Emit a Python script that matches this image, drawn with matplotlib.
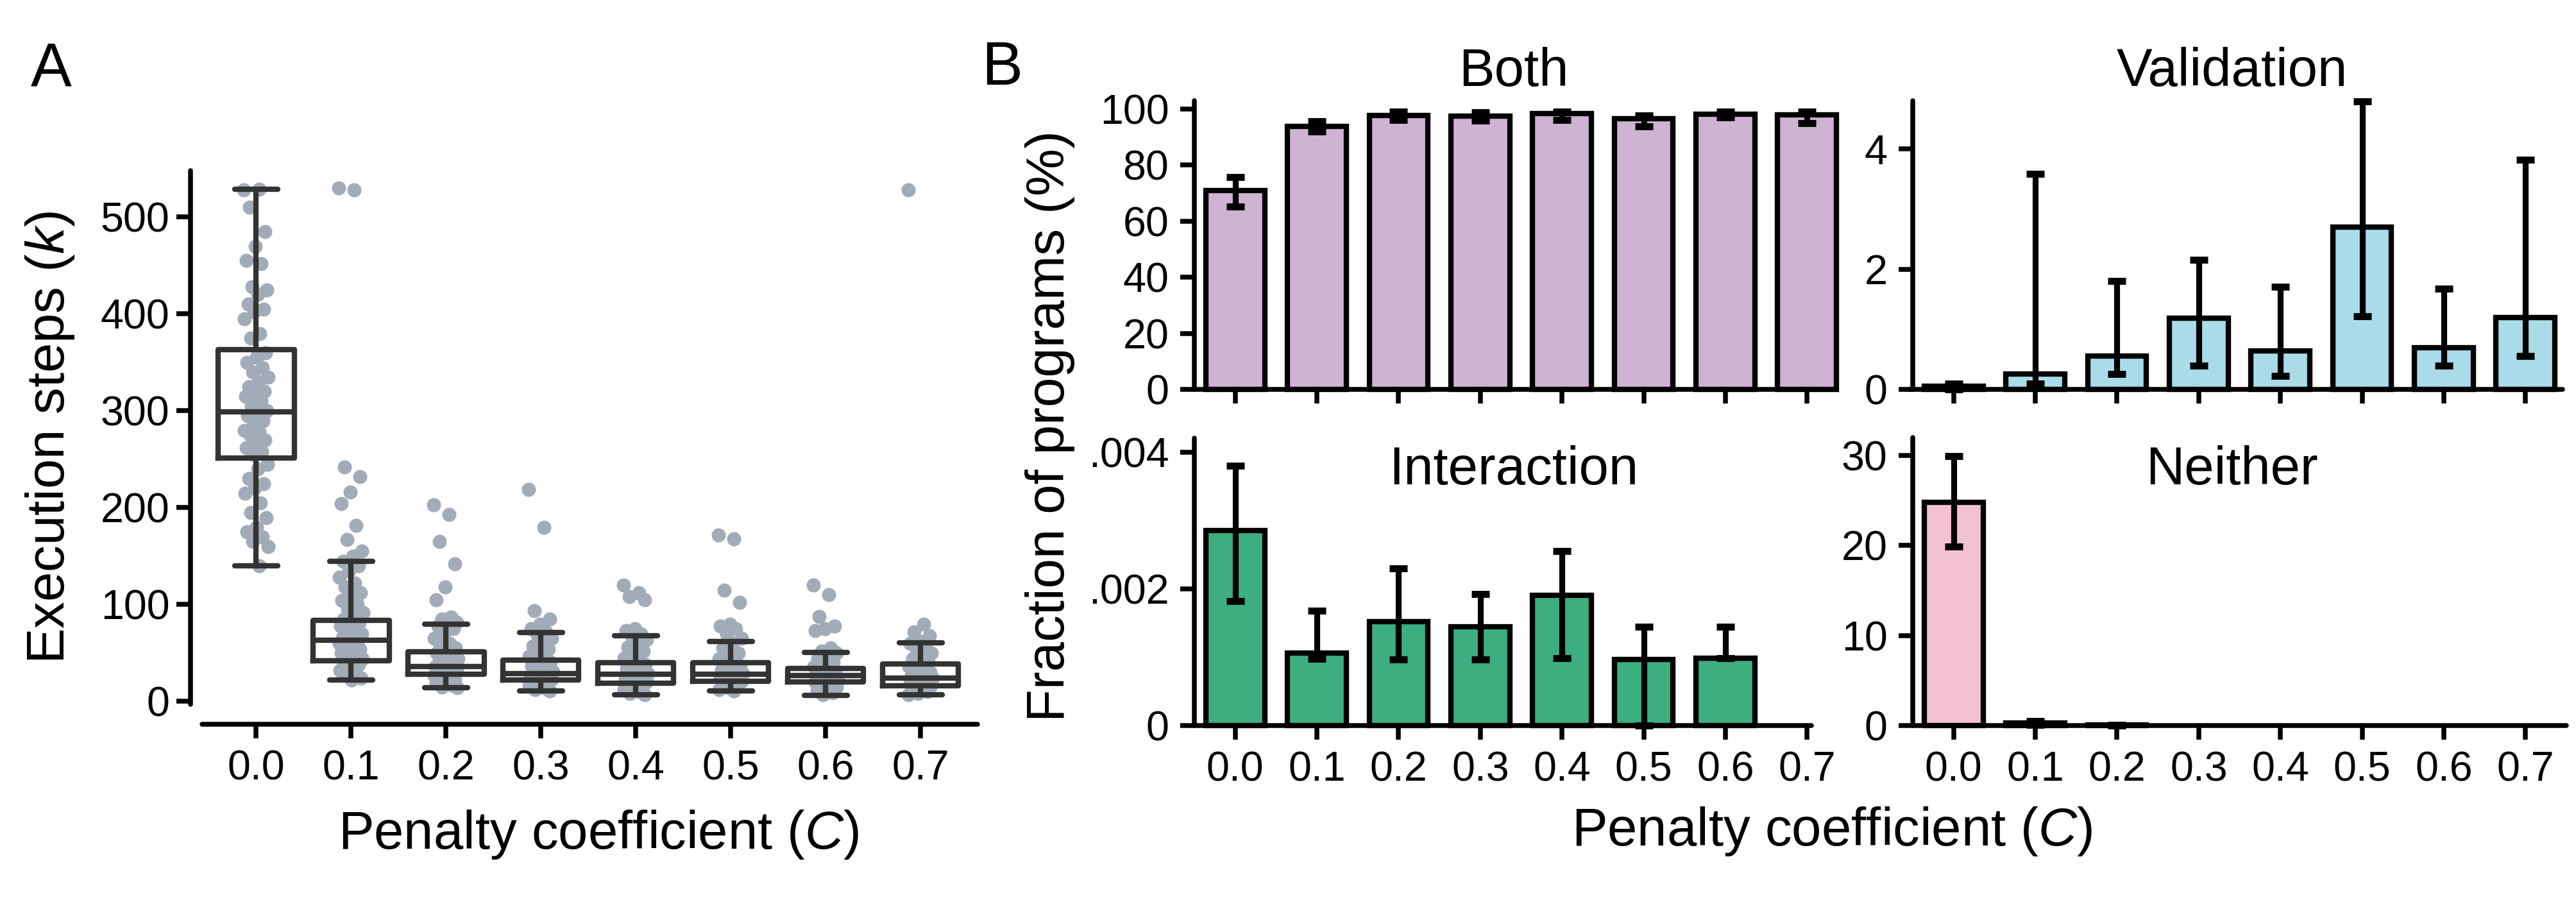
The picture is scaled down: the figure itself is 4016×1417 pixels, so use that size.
import matplotlib

matplotlib.use("Agg")

import numpy as np
import matplotlib.pyplot as plt

plt.rcParams["font.family"] = ["Liberation Sans", "DejaVu Sans"]
plt.rcParams["mathtext.fontset"] = "custom"
plt.rcParams["mathtext.rm"] = "Liberation Sans"
plt.rcParams["mathtext.it"] = "Liberation Sans:italic"
plt.rcParams["font.size"] = 15.5

W, H, DPI = 4016, 1417, 300

categories = ["0.0", "0.1", "0.2", "0.3", "0.4", "0.5", "0.6", "0.7"]

# panel A: box stats (thousands of steps)
steps_lo = [140, 22, 14, 11, 7, 11, 6.6, 7]
steps_q1 = [251, 42, 28, 22, 19, 21, 20, 16.5]
steps_med = [299, 63, 36, 29, 28, 28, 26.5, 24]
steps_q3 = [363, 84, 51, 43, 40, 40, 34, 38.5]
steps_hi = [529, 145, 80, 71, 68, 62, 50.6, 60.6]

# panel A: individual runs
pts_00 = [528, 529, 510, 485, 470, 455, 452, 428, 425, 420, 410, 405, 402, 395, 380,
          375, 360, 355, 350, 345, 340, 335, 330, 325, 320, 318, 315, 310, 305, 300,
          298, 295, 290, 285, 280, 278, 275, 270, 265, 262, 258, 255, 245, 240, 230,
          225, 220, 215, 205, 195, 190, 180, 175, 170, 165, 160, 140]
pts_01 = [530, 528, 242, 232, 216, 204, 182, 167, 155, 150, 145, 140, 135, 128, 122,
          118, 112, 108, 104, 100, 96, 92, 88, 85, 82, 80, 78, 75, 72, 70, 68, 66, 64,
          62, 60, 58, 56, 54, 52, 50, 48, 46, 44, 42, 40, 38, 35, 32, 30, 27, 24, 22]
pts_02 = [203, 193, 165, 142, 118, 105, 87, 85, 82, 80, 78, 75, 70, 65, 60, 58, 55,
          52, 50, 48, 46, 44, 42, 40, 38, 37, 36, 35, 34, 33, 32, 30, 29, 28, 27, 26,
          25, 23, 21, 19, 17, 15, 14]
pts_03 = [219, 180, 94, 85, 80, 75, 72, 70, 65, 60, 57, 54, 50, 47, 45, 43, 41, 39,
          37, 35, 33, 31, 30, 29, 28, 27, 26, 25, 24, 23, 22, 21, 20, 18, 16, 14, 12, 11]
pts_04 = [120, 112, 108, 105, 75, 73, 70, 67, 64, 60, 56, 52, 48, 45, 42, 40, 38, 36,
          34, 32, 30, 29, 28, 27, 26, 25, 24, 22, 21, 20, 19, 18, 16, 14, 12, 10, 8, 7]
pts_05 = [172, 168, 115, 102, 80, 78, 75, 70, 65, 60, 55, 50, 47, 44, 41, 39, 37, 35,
          33, 31, 30, 29, 28, 27, 26, 25, 24, 23, 22, 21, 20, 18, 16, 14, 12, 11]
pts_06 = [120, 110, 88, 78, 75, 73, 55, 52, 50, 47, 44, 41, 38, 36, 34, 32, 30, 29,
          28, 27, 26, 25, 24, 23, 22, 21, 20, 19, 17, 15, 13, 11, 9, 7]
pts_07 = [528, 80, 72, 68, 62, 60, 57, 54, 50, 47, 44, 41, 38, 36, 34, 32, 30, 28,
          27, 26, 25, 24, 23, 22, 21, 20, 19, 18, 17, 16, 14, 12, 10, 8, 7]
points = [pts_00, pts_01, pts_02, pts_03, pts_04, pts_05, pts_06, pts_07]

# panel B: mean and CI bounds
both_val = [70.9, 93.9, 97.7, 97.4, 98.5, 96.6, 98.3, 98.0]
both_lo = [65.3, 92.1, 96.1, 95.9, 96.1, 93.9, 97.1, 94.9]
both_hi = [75.7, 95.7, 99.0, 98.8, 99.2, 97.8, 99.0, 99.0]

valid_val = [0.05, 0.26, 0.56, 1.18, 0.64, 2.70, 0.69, 1.19]
valid_lo = [0.0, 0.10, 0.26, 0.40, 0.22, 1.22, 0.39, 0.56]
valid_hi = [0.10, 3.58, 1.80, 2.16, 1.71, 4.79, 1.67, 3.82]

inter_val = [0.00286, 0.00106, 0.00152, 0.00145, 0.00191, 0.00097, 0.00099, 0.0]
inter_lo = [0.00182, 0.00098, 0.00097, 0.00097, 0.00099, 0.0, 0.00099, 0.0]
inter_hi = [0.00381, 0.00168, 0.00230, 0.00193, 0.00256, 0.00145, 0.00145, 0.0]

neither_val = [24.8, 0.25, 0.05, 0.0, 0.0, 0.0, 0.0, 0.0]
neither_lo = [19.9, 0.10, 0.02, 0.0, 0.0, 0.0, 0.0, 0.0]
neither_hi = [29.9, 0.50, 0.08, 0.0, 0.0, 0.0, 0.0, 0.0]

fig = plt.figure(figsize=(W / DPI, H / DPI), dpi=DPI)


def px_axes(x0, y0, x1, y1):
    return fig.add_axes([x0 / W, 1 - y1 / H, (x1 - x0) / W, (y1 - y0) / H])


def style(ax, lw=1.8):
    for s in ["top", "right"]:
        ax.spines[s].set_visible(False)
    for s in ["left", "bottom"]:
        ax.spines[s].set_linewidth(lw)
        ax.spines[s].set_capstyle("round")
    ax.tick_params(direction="out", length=5.3, width=lw, color="black")


x = np.arange(len(categories))

# ---------------- panel A ----------------
axA = px_axes(315, 266, 1524, 1098)
style(axA)
axA.set_xlim(-0.57, 7.6)
axA.set_ylim(-3, 548)
axA.spines["left"].set_position(("outward", 4.3))
axA.spines["bottom"].set_position(("outward", 7.4))

for i, vals in enumerate(points):
    n = len(vals)
    offs = ((np.arange(n) * 0.618034) % 1.0 - 0.5) * 0.26
    axA.scatter(i + offs, vals, s=28, color="#A2ACB8", linewidths=0, zorder=1)

stats = []
for i in range(len(categories)):
    stats.append(dict(med=steps_med[i], q1=steps_q1[i], q3=steps_q3[i],
                      whislo=steps_lo[i], whishi=steps_hi[i]))
lp = dict(color="#333333", linewidth=2.0, solid_capstyle="round")
axA.bxp(stats, positions=x, widths=0.8, capwidths=0.45, showfliers=False,
        boxprops=dict(color="#333333", linewidth=2.0),
        whiskerprops=lp, capprops=lp, medianprops=dict(color="#333333", linewidth=2.0),
        manage_ticks=False, zorder=2)
axA.set_xticks(x)
axA.set_xticklabels(categories)
axA.set_yticks([0, 100, 200, 300, 400, 500])
axA.tick_params(axis="y", pad=2.5)
axA.tick_params(axis="x", pad=4.3)

fig.text(78 / W, 1 - 682 / H, r"Execution steps ($\mathit{k}$)", rotation=90,
         ha="center", va="center", fontsize=20)
fig.text(933 / W, 1 - 1301 / H, r"Penalty coefficient ($\mathit{C}$)",
         ha="center", va="center", fontsize=20)
fig.text(80 / W, 1 - 108 / H, "A", ha="center", va="center", fontsize=23)

# ---------------- panel B ----------------
panels = [
    ("Both", both_val, both_lo, both_hi, "#CFB3D3", (1862, 157, 2881, 607), 103,
     [0, 20, 40, 60, 80, 100], ["0", "20", "40", "60", "80", "100"], (-0.5, 7.35), False),
    ("Validation", valid_val, valid_lo, valid_hi, "#A9DBE8", (2982, 157, 4001, 607), 4.8,
     [0, 2, 4], ["0", "2", "4"], (-0.55, 7.45), False),
    ("Interaction", inter_val, inter_lo, inter_hi, "#3DAE80", (1862, 683, 2881, 1131), 0.00421,
     [0, 0.002, 0.004], ["0", ".002", ".004"], (-0.5, 7.05), True),
    ("Neither", neither_val, neither_lo, neither_hi, "#F2C1D4", (2982, 682, 4001, 1131), 32,
     [0, 10, 20, 30], ["0", "10", "20", "30"], (-0.5, 7.5), True),
]

for name, val, lo, hi, col, box, ytop, yt, ytl, xb, show_lab in panels:
    ax = px_axes(*box)
    style(ax, lw=1.8)
    val = np.array(val)
    lo = np.array(lo)
    hi = np.array(hi)
    nz = val > 0
    ax.bar(x[nz], val[nz], width=0.72, color=col, edgecolor="black", linewidth=2.0, zorder=2)
    m = hi > 0
    ax.errorbar(x[m], val[m], yerr=[val[m] - lo[m], hi[m] - val[m]], fmt="none",
                ecolor="black", elinewidth=2.2, capsize=3.4, capthick=2.6, zorder=3)
    ax.set_xlim(-0.5, 7.5)
    ax.set_ylim(0, ytop)
    ax.spines["bottom"].set_bounds(*xb)
    ax.set_yticks(yt)
    ax.set_yticklabels(ytl)
    ax.set_xticks(x)
    if show_lab:
        ax.set_xticklabels(categories)
    else:
        ax.set_xticklabels([])
    ax.tick_params(axis="both", pad=4.2)
    for art in ax.get_children():
        art.set_clip_on(False)
    cx = (box[0] + box[2]) / 2 - 12
    cy = 112 if box[1] < 300 else 733
    fig.text(cx / W, 1 - cy / H, name, ha="center", va="center", fontsize=20)

fig.text(1637 / W, 1 - 664 / H, "Fraction of programs (%)", rotation=90,
         ha="center", va="center", fontsize=20)
fig.text(2856 / W, 1 - 1296 / H, r"Penalty coefficient ($\mathit{C}$)",
         ha="center", va="center", fontsize=20)
fig.text(1562 / W, 1 - 107 / H, "B", ha="center", va="center", fontsize=23)

fig.savefig("out.png", dpi=DPI)
